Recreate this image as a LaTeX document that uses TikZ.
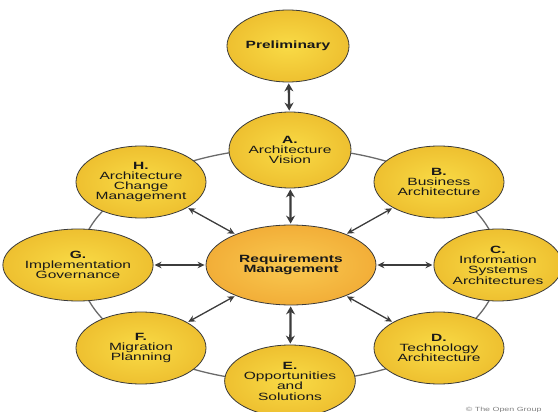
\documentclass[tikz,border=0pt]{standalone}
\usepackage{fontspec}
\setmainfont{Liberation Sans}[FakeStretch=1.48]
\usetikzlibrary{shapes.geometric,arrows.meta}

\definecolor{phaseIn}{HTML}{F9DB46}
\definecolor{phaseOut}{HTML}{EEC030}
\definecolor{hubIn}{HTML}{F9C950}
\definecolor{hubOut}{HTML}{F2AE38}
\definecolor{edgeDark}{HTML}{3A3A3A}
\definecolor{arrowGray}{HTML}{3C3C3C}
\definecolor{ringGray}{HTML}{6A6A6A}

\begin{document}
\begin{tikzpicture}[x=1pt,y=-1pt,
    phase/.style={ellipse, draw=edgeDark, line width=.8pt,
      inner color=phaseIn, outer color=phaseOut,
      minimum width=130pt, minimum height=72pt, inner sep=0pt,
      align=center, text=black!90, font=\fontsize{10.5}{10.3}\selectfont},
    hub/.style={phase, inner color=hubIn, outer color=hubOut,
      minimum width=170pt, minimum height=80pt},
    link/.style={{Stealth[length=7pt,width=6.5pt]}-{Stealth[length=7pt,width=6.5pt]},
      draw=arrowGray, line width=1.3pt, shorten <=1pt, shorten >=1pt},
    biglink/.style={{Stealth[length=8pt,width=9pt]}-{Stealth[length=8pt,width=9pt]},
      draw=arrowGray, line width=2.3pt, shorten <=1pt, shorten >=1pt}]
  \useasboundingbox (0,0) rectangle (558,412);

  % ring behind the phases
  \draw[ringGray, line width=1.3pt] (289,265) ellipse [x radius=210, y radius=117];

  \node[phase, minimum width=122pt] (prelim) at (288,46) {\textbf{Preliminary}};
  \node[phase, minimum width=122pt, minimum height=76pt] (a) at (290,150)
    {\textbf{A.}\\Architecture\\Vision};
  \node[phase] (b) at (439,182) {\textbf{B.}\\Business\\Architecture};
  \node[phase, minimum width=124pt] (c) at (498,265)
    {\textbf{C.}\\Information\\Systems\\Architectures};
  \node[phase] (d) at (439,348) {\textbf{D.}\\Technology\\Architecture};
  \node[phase] (e) at (290,381) {\textbf{E.}\\Opportunities\\and\\Solutions};
  \node[phase] (f) at (141,348) {\textbf{F.}\\Migration\\Planning};
  \node[phase] (g) at (78,265) {\textbf{G.}\\Implementation\\Governance};
  \node[phase] (h) at (141,182)
    {\textbf{H.}\\Architecture\\Change\\Management};

  \node[hub] (req) at (291,265) {\textbf{Requirements}\\\textbf{Management}};

  \draw[biglink] (prelim) -- (a);
  \draw[biglink] (req) -- (a);
  \draw[biglink] (req) -- (e);
  \draw[link] (req) -- (b);
  \draw[link] (req) -- (c);
  \draw[link] (req) -- (d);
  \draw[link] (req) -- (f);
  \draw[link] (req) -- (g);
  \draw[link] (req) -- (h);

  \node[text=gray, anchor=base east, font=\fontsize{6}{6}\selectfont] (copy)
    at (545,411) {\textcopyright{} The Open Group};
\end{tikzpicture}
\end{document}
